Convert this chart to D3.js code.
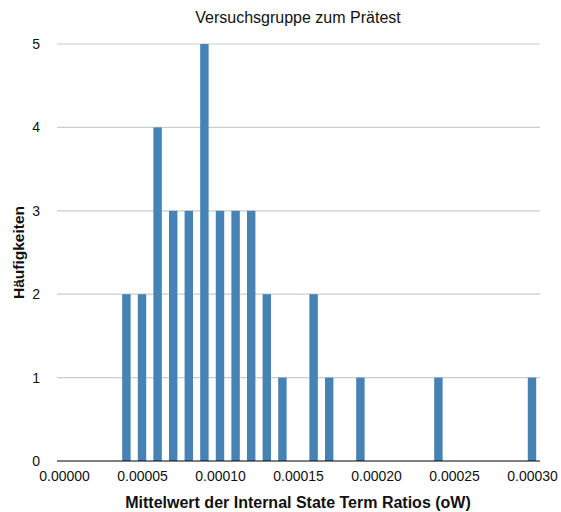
<!DOCTYPE html>
<html>
<head>
<meta charset="utf-8">
<script src="https://cdn.jsdelivr.net/npm/d3@7"></script>
<style>
  html, body { margin: 0; padding: 0; background: #fff; }
  svg { display: block; font-family: "Liberation Sans", Arial, Helvetica, sans-serif; }
</style>
</head>
<body>
<svg id="chart" width="561" height="512"></svg>
<script>
// Data
const title = "Versuchsgruppe zum Prätest";
const xTitle = "Mittelwert der Internal State Term Ratios (oW)";
const yTitle = "Häufigkeiten";
const binCenters = [0.00004, 0.00005, 0.00006, 0.00007, 0.00008, 0.00009, 0.00010, 0.00011, 0.00012, 0.00013, 0.00014, 0.00016, 0.00017, 0.00019, 0.00024, 0.00030];
const counts = [2, 2, 4, 3, 3, 5, 3, 3, 3, 2, 1, 2, 1, 1, 1, 1];
const binWidth = 0.00001;
const xTicks = [0, 0.00005, 0.0001, 0.00015, 0.0002, 0.00025, 0.0003];
const yTicks = [0, 1, 2, 3, 4, 5];

const svg = d3.select("#chart");
const plotLeft = 57, plotRight = 540, plotTop = 44, plotBottom = 461;

const x = d3.scaleLinear().domain([0, 0.0003]).range([64, 532]);
const y = d3.scaleLinear().domain([0, 5]).range([plotBottom, plotTop]);

// gridlines
svg.append("g").selectAll("line").data(yTicks.filter(d => d > 0)).join("line")
  .attr("x1", plotLeft).attr("x2", plotRight)
  .attr("y1", d => y(d)).attr("y2", d => y(d))
  .attr("stroke", "#cccccc").attr("stroke-width", 1.2);

// bars
const bw = (x(binWidth) - x(0)) * 0.54;
svg.append("g").selectAll("rect").data(binCenters.map((c, i) => ({c, n: counts[i]}))).join("rect")
  .attr("x", d => x(d.c) - bw / 2)
  .attr("width", bw)
  .attr("y", d => y(d.n))
  .attr("height", d => y(0) - y(d.n))
  .attr("fill", "#4682b4");

// x axis line
svg.append("line")
  .attr("x1", plotLeft).attr("x2", plotRight)
  .attr("y1", y(0)).attr("y2", y(0))
  .attr("stroke", "#000").attr("stroke-width", 1.2);

// x axis labels
const xAxis = d3.axisBottom(x).tickValues(xTicks).tickFormat(d3.format(".5f")).tickSize(0).tickPadding(0);
const gx = svg.append("g").attr("transform", `translate(0,${y(0)})`).call(xAxis);
gx.select(".domain").remove();
gx.selectAll("text").attr("font-size", 14).attr("font-family", "Liberation Sans, Arial, sans-serif")
  .attr("fill", "#111").attr("dy", null).attr("y", 20);

// y axis labels
const yAxis = d3.axisLeft(y).tickValues(yTicks).tickFormat(d3.format("d")).tickSize(0).tickPadding(0);
const gy = svg.append("g").attr("transform", `translate(40,0)`).call(yAxis);
gy.select(".domain").remove();
gy.selectAll("text").attr("font-size", 14).attr("font-family", "Liberation Sans, Arial, sans-serif")
  .attr("fill", "#111").attr("x", 0);

// title
svg.append("text").attr("x", 298).attr("y", 23).attr("text-anchor", "middle")
  .attr("font-size", 16).attr("fill", "#111").text(title);

// x title
svg.append("text").attr("x", 298).attr("y", 508).attr("text-anchor", "middle")
  .attr("font-size", 16).attr("font-weight", "bold").attr("fill", "#111").text(xTitle);

// y title
svg.append("text").attr("transform", `translate(24,${(plotTop + plotBottom) / 2}) rotate(-90)`)
  .attr("text-anchor", "middle")
  .attr("font-size", 15.5).attr("font-weight", "bold").attr("fill", "#111").text(yTitle);
</script>
</body>
</html>
